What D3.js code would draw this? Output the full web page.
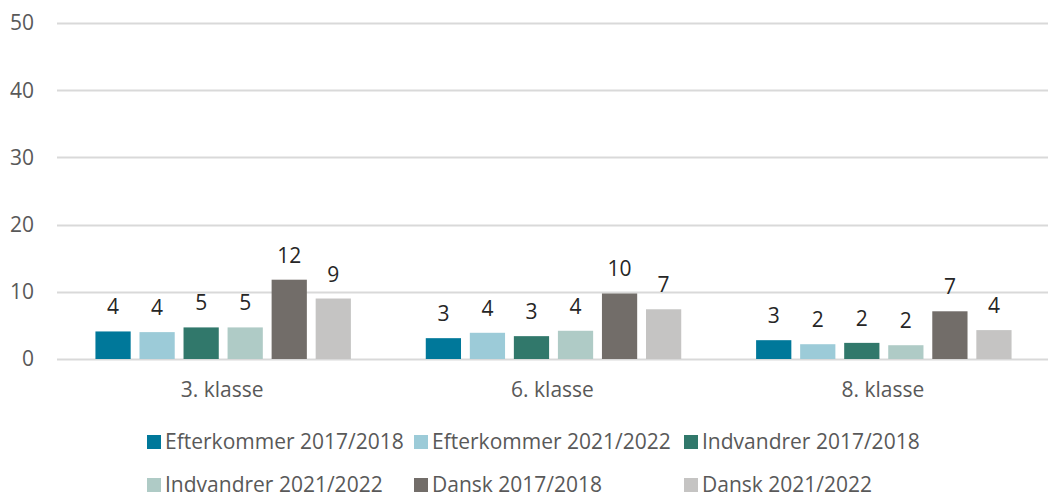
<!DOCTYPE html>
<html>
<head>
<meta charset="utf-8">
<script src="https://cdn.jsdelivr.net/npm/d3@7"></script>
<style>
  body { margin: 0; background: #fff; }
  svg { display: block; font-family: "Open Sans", sans-serif; }
</style>
</head>
<body>
<div id="chart"></div>
<script>
// data
const categories = ['3. klasse', '6. klasse', '8. klasse'];
const seriesNames = ['Efterkommer 2017/2018', 'Efterkommer 2021/2022', 'Indvandrer 2017/2018',
    'Indvandrer 2021/2022', 'Dansk 2017/2018', 'Dansk 2021/2022'];
const efterkommer1718 = [4.1, 3.1, 2.8];
const efterkommer2122 = [4.0, 3.9, 2.2];
const indvandrer1718 = [4.7, 3.4, 2.4];
const indvandrer2122 = [4.7, 4.2, 2.05];
const dansk1718 = [11.8, 9.75, 7.1];
const dansk2122 = [9.0, 7.4, 4.3];
const yTicks = [0, 10, 20, 30, 40, 50];

const colors = ['#00789a', '#9ccbd8', '#31786b', '#afcbc6', '#726d69', '#c5c4c3'];
const seriesValues = [efterkommer1718, efterkommer2122, indvandrer1718, indvandrer2122, dansk1718, dansk2122];

const width = 1048, height = 497;
const margin = { left: 57, right: 0, top: 23, bottom: 138 };

const svg = d3.select('#chart').append('svg')
    .attr('width', width)
    .attr('height', height);

const x0 = d3.scaleBand()
    .domain(categories)
    .range([margin.left, width - margin.right]);

const x1 = d3.scaleBand()
    .domain(d3.range(seriesNames.length))
    .range([0, x0.bandwidth()])
    .paddingInner(0.2)
    .paddingOuter(0.85);

const y = d3.scaleLinear()
    .domain([0, 50])
    .range([height - margin.bottom, margin.top]);

// gridlines
svg.append('g')
    .selectAll('line')
    .data(yTicks)
    .join('line')
    .attr('x1', margin.left)
    .attr('x2', width - margin.right)
    .attr('y1', d => Math.round(y(d)) + 0.5)
    .attr('y2', d => Math.round(y(d)) + 0.5)
    .attr('stroke', '#d9d9d9')
    .attr('stroke-width', 2);

// y labels
svg.append('g')
    .selectAll('text')
    .data(yTicks)
    .join('text')
    .attr('x', 34)
    .attr('y', d => y(d))
    .attr('dy', '0.35em')
    .attr('text-anchor', 'end')
    .attr('font-size', 21)
    .attr('fill', '#595959')
    .text(d => d);

// bars
const groups = svg.append('g')
    .selectAll('g')
    .data(categories)
    .join('g')
    .attr('transform', d => `translate(${x0(d)},0)`);

const cells = groups.selectAll('g')
    .data((c, ci) => seriesValues.map((vals, si) => ({ si, v: vals[ci] })))
    .join('g');

cells.append('rect')
    .attr('x', d => x1(d.si) + 1)
    .attr('width', x1.bandwidth())
    .attr('y', d => y(d.v))
    .attr('height', d => y(0) - y(d.v))
    .attr('fill', d => colors[d.si]);

cells.append('text')
    .attr('x', d => x1(d.si) + 1 + x1.bandwidth() / 2)
    .attr('y', d => y(d.v) - 17)
    .attr('text-anchor', 'middle')
    .attr('font-size', 21)
    .attr('fill', '#262626')
    .text(d => Math.round(d.v));

// category labels
svg.append('g')
    .selectAll('text')
    .data(categories)
    .join('text')
    .attr('x', d => x0(d) + x0.bandwidth() / 2)
    .attr('y', 397)
    .attr('text-anchor', 'middle')
    .attr('font-size', 21)
    .attr('fill', '#595959')
    .text(d => d);

// legend, 3 per row
const legendCols = [147, 414, 684];
const legendRows = [442, 485];
const legend = svg.append('g')
    .selectAll('g')
    .data(seriesNames)
    .join('g')
    .attr('transform', (d, i) => `translate(${legendCols[i % 3]},${legendRows[Math.floor(i / 3)]})`);

legend.append('rect')
    .attr('x', 0)
    .attr('y', -7)
    .attr('width', 14)
    .attr('height', 14)
    .attr('fill', (d, i) => colors[i]);

legend.append('text')
    .attr('x', 18)
    .attr('dy', '0.35em')
    .attr('font-size', 21)
    .attr('fill', '#595959')
    .text(d => d);
</script>
</body>
</html>
